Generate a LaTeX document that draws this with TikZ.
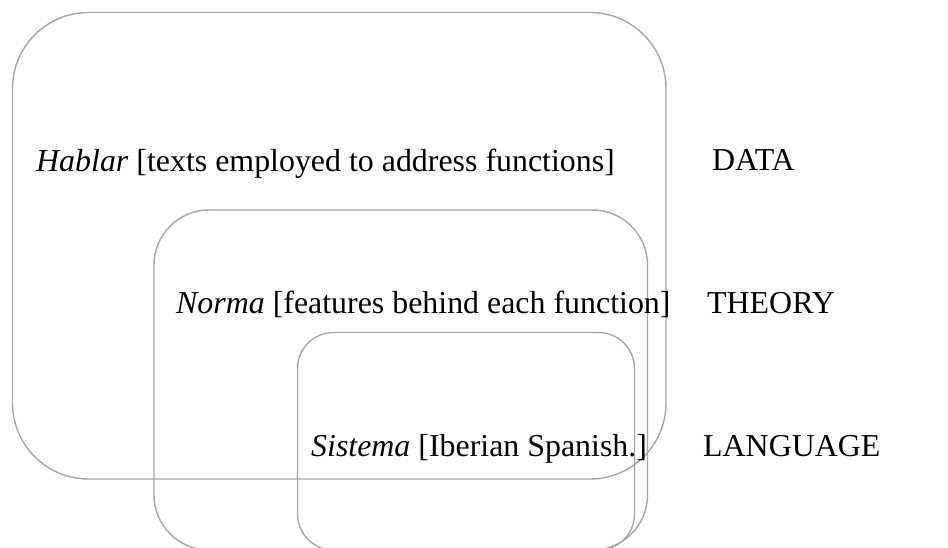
\documentclass[tikz,border=0pt]{standalone}
\usepackage{fontspec}
\setmainfont{Liberation Serif}
\begin{document}
\begin{tikzpicture}[x=1pt,y=-1pt,
  frame/.style={draw=boxgrey, line width=1.4pt},
  lbl/.style={anchor=base west, inner sep=0pt, font=\fontsize{31.9}{36}\selectfont, text=black}]
\definecolor{boxgrey}{HTML}{A6A6A6}
\useasboundingbox (0,0) rectangle (948,548);
\clip (0,0) rectangle (948,548);
% outer box (Hablar)
\draw[frame, rounded corners=76pt] (12.5,12.5) rectangle (666,479);
% middle box (Norma)
\draw[frame, rounded corners=55pt] (154,210) rectangle (647.5,550);
% inner box (Sistema)
\draw[frame, rounded corners=36pt] (297.5,332.5) rectangle (634.5,550);
% texts
\node[lbl] (hablar) at (36,172) {\textit{Hablar} [texts employed to address functions]};
\node[lbl] (data) at (712,171) {DATA};
\node[lbl] (norma) at (176,313) {\textit{Norma} [features behind each function]};
\node[lbl] (theory) at (707,313) {THEORY};
\node[lbl] (sistema) at (311,456) {\textit{Sistema} [Iberian Spanish.]};
\node[lbl] (language) at (703,456) {LANGUAGE};
\end{tikzpicture}
\end{document}
